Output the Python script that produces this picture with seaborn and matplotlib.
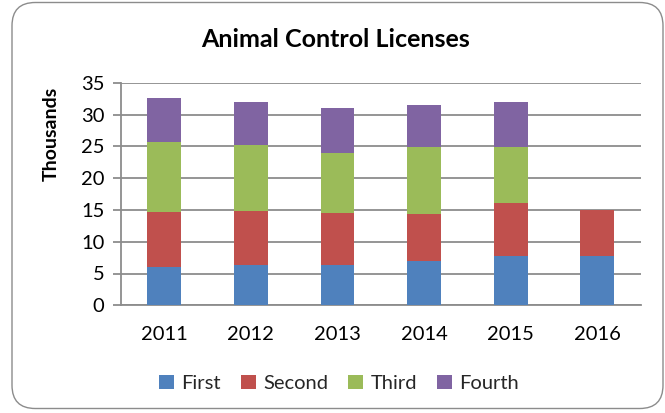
import matplotlib
matplotlib.use("Agg")
import matplotlib.pyplot as plt
from matplotlib.patches import FancyBboxPatch, Patch
import numpy as np
import pandas as pd
import seaborn as sns

years = ["2011", "2012", "2013", "2014", "2015", "2016"]
first = [6.1, 6.35, 6.35, 6.9, 7.8, 7.7]
second = [8.6, 8.45, 8.2, 7.5, 8.35, 7.3]
third = [10.95, 10.35, 9.4, 10.45, 8.75, 0.0]
fourth = [7.0, 6.8, 7.05, 6.6, 7.0, 0.0]
series_names = ["First", "Second", "Third", "Fourth"]
colors = ["#4F81BD", "#C0504D", "#9BBB59", "#8064A2"]

sns.set_theme(style="white")
plt.rcParams["font.family"] = ["Lato", "DejaVu Sans"]

fig = plt.figure(figsize=(6.65, 4.13), dpi=100)
fig.patch.set_facecolor("white")

# rounded chart frame
frame = FancyBboxPatch((12 / 665, 4.5 / 413), 651 / 665, 406 / 413,
                       boxstyle="round,pad=0,rounding_size=0.035",
                       transform=fig.transFigure, facecolor="none",
                       edgecolor="#8C8C8C", linewidth=1.0, zorder=-10,
                       mutation_aspect=665 / 413)
fig.patches.append(frame)

ax = fig.add_axes([121 / 665, (413 - 305.3) / 413, 519.5 / 665, 222.6 / 413])
ax.set_facecolor("none")

layers = [first, second, third, fourth]
cum = np.cumsum(np.array(layers), axis=0)
# draw tallest stack first so lower segments sit on top
for i in range(len(layers) - 1, -1, -1):
    df = pd.DataFrame({"Year": years, "Value": cum[i]})
    sns.barplot(data=df, x="Year", y="Value", color=colors[i], width=0.39,
                saturation=1, ax=ax, zorder=3, edgecolor="none", linewidth=0)

ax.set_xlim(-0.5, len(years) - 0.5)
ax.set_ylim(0, 35)
ax.set_yticks(np.arange(0, 36, 5))
ax.yaxis.grid(True, color="#8C8C8C", linewidth=1.3, zorder=0)
ax.set_axisbelow(True)
for s in ["top", "right"]:
    ax.spines[s].set_visible(False)
for s in ["left", "bottom"]:
    ax.spines[s].set_color("#8C8C8C")
    ax.spines[s].set_linewidth(1.3)

ax.set_xticks(np.arange(-0.5, len(years), 1.0), minor=True)
ax.tick_params(axis="x", which="minor", length=6, width=1.3, color="#8C8C8C", direction="out")
ax.tick_params(axis="x", which="major", length=0, pad=15, labelsize=14.5, labelcolor="black")
ax.tick_params(axis="y", which="major", left=True, length=6, width=1.3, color="#8C8C8C",
               direction="out", pad=6, labelsize=14.5, labelcolor="black")

ax.set_xlabel("")
ax.set_ylabel("Thousands", fontsize=14, fontweight="bold", color="black")
ax.yaxis.set_label_coords(-0.118, 0.77)
fig.text(0.505, 0.905, "Animal Control Licenses", ha="center", va="center",
         fontsize=18, fontweight="bold", color="black")

handles = [Patch(facecolor=c, edgecolor="none") for c in colors]
fig.legend(handles, series_names, loc="center", bbox_to_anchor=(0.51, 0.072),
           ncol=4, frameon=False, fontsize=14.5, handlelength=0.75, handleheight=0.75,
           handletextpad=0.35, columnspacing=1.0)

fig.savefig("out.png", dpi=100)
